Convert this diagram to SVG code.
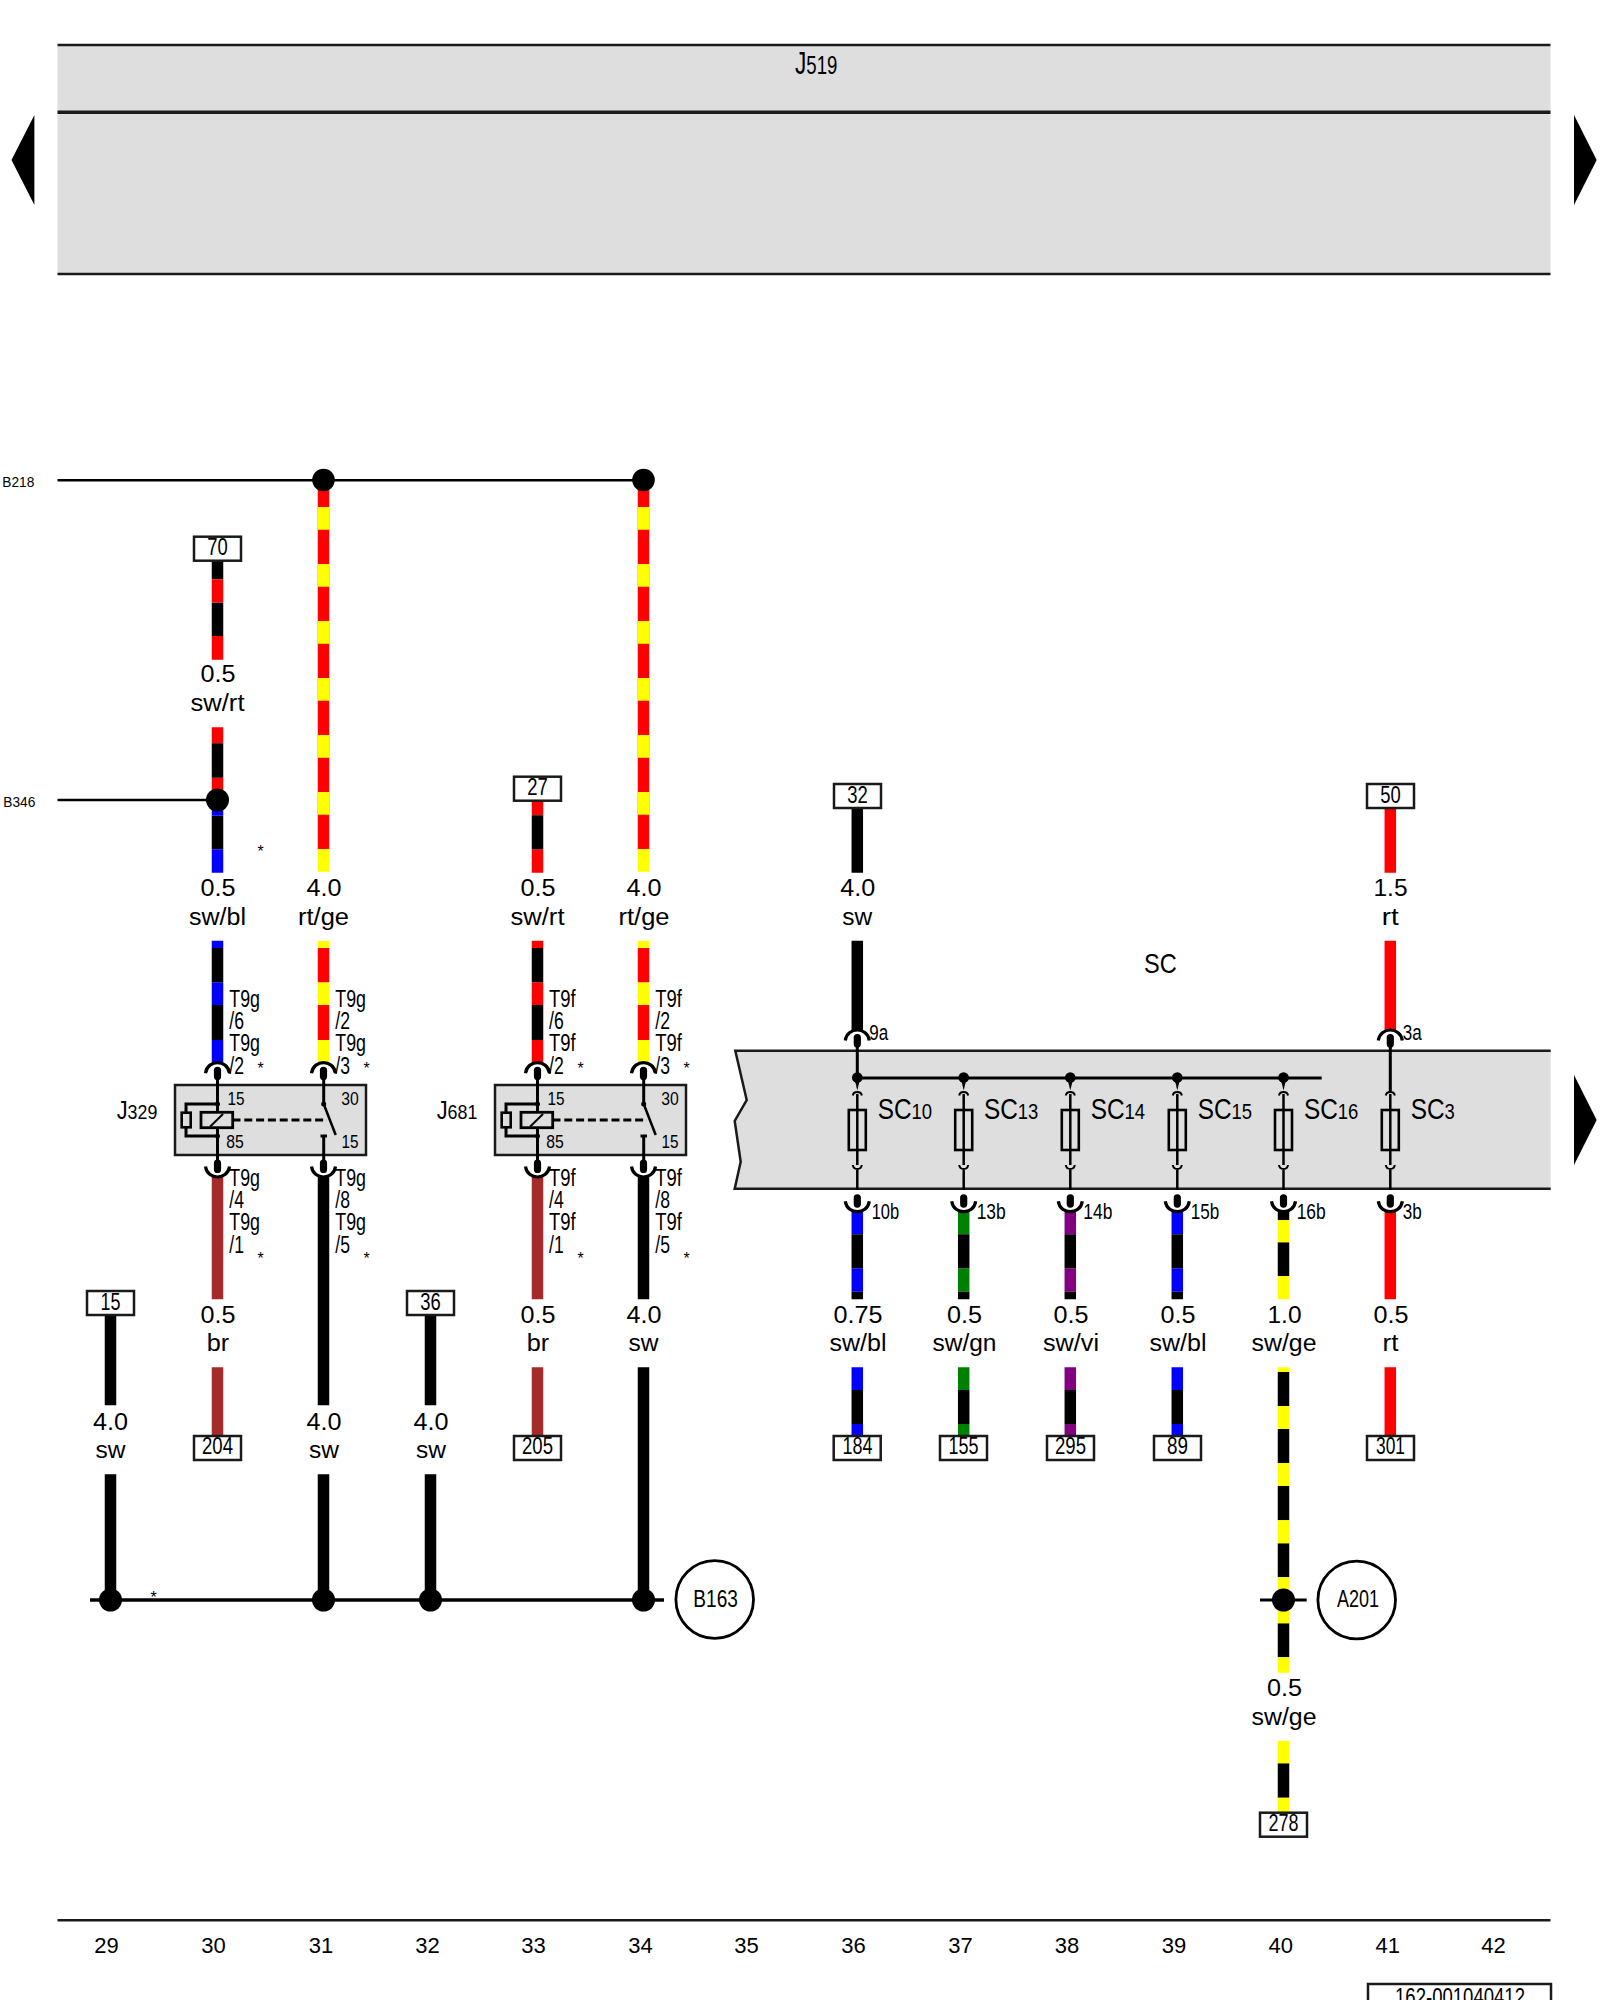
<svg xmlns="http://www.w3.org/2000/svg" width="1600" height="2000" viewBox="0 0 1600 2000">
<style>
text{font-family:"Liberation Sans",Arial,sans-serif;fill:#000}
.m{text-anchor:middle}
.w22{font-size:22px}.s23{font-size:23px}.s235{font-size:23.5px}.s22{font-size:22.5px}.s17{font-size:17.5px}.s15{font-size:15px}.s28{font-size:28px}
.st{font-size:16px;text-anchor:middle}
.band{fill:#dedede}
.edge{stroke:#1a1a1a;fill:none;stroke-linecap:butt}
.w{fill:none;stroke-width:11.5;stroke-linecap:butt}
.k{stroke:#000}.r{stroke:#f00}.y{stroke:#ff0}.b{stroke:#00f}.g{stroke:#008000}.v{stroke:#800080}.n{stroke:#a52a2a}
.ln{stroke:#000;fill:none}
.l2{stroke-width:2}.l25{stroke-width:2.5}.l3{stroke-width:3}.l32{stroke-width:3.2}.l35{stroke-width:3.6}
.term{fill:#fff;stroke:#1a1a1a;stroke-width:2.5}
.circ{fill:#fff;stroke:#000;stroke-width:2.8}
</style>
<defs>
<g id="cup-t"><path class="ln l32" d="M-12 10.5C-11 3-5 0 0 0C5 0 11 3 12 10.5"/><rect x="-3.6" y="4" width="7.2" height="13.5" rx="3.6"/></g>
<g id="cup-b"><path class="ln l32" d="M-12-10.5C-11-3-5 0 0 0C5 0 11-3 12-10.5"/><rect x="-3.6" y="-17.5" width="7.2" height="13.5" rx="3.6"/></g>
<g id="relay">
<rect x="175" y="1085" width="191" height="70" fill="#dedede" stroke="#1a1a1a" stroke-width="2.5"/>
<path class="ln l3" d="M217.5 1080V1112M217.5 1128V1165M323.7 1073V1104M323.7 1165V1136M320.5 1136H327M217.5 1104H186V1136H217.5"/>
<path class="ln l25" d="M323.7 1104L335.7 1135"/>
<path class="ln l3" d="M232.5 1120H327" stroke-dasharray="8 3.8"/>
<rect x="181.7" y="1112.7" width="9" height="14.6" fill="#dedede" stroke="#000" stroke-width="2.6"/>
<rect x="201" y="1112.3" width="31.7" height="15.4" fill="#dedede" stroke="#000" stroke-width="2.8"/>
<path class="ln l2" d="M210 1126.7L223 1114"/>
<circle cx="217.5" cy="1104" r="2.5"/><circle cx="217.5" cy="1136" r="2.5"/><circle cx="323.7" cy="1104" r="2.5"/>
</g>
<g id="fuse">
<path class="ln l25" d="M0 1094V1110M0 1150V1165M0 1170V1190M0 1110V1150"/>
<path class="ln l2" d="M-4.5 1095.5Q-4 1092 0 1092Q4 1092 4.5 1095.5M-4.5 1165Q-4 1169 0 1169Q4 1169 4.5 1165"/>
<rect x="-8.5" y="1110" width="17" height="40" fill="none" stroke="#000" stroke-width="2.6"/>
</g>
<g id="tap"><circle cx="0" cy="1077.5" r="5.3"/><path d="M-2.5 1080L0 1090.5L2.5 1080Z"/></g>
</defs>

<g id="J519">
<rect class="band" x="57.5" y="45" width="1493" height="229"/>
<path class="edge" stroke-width="2.5" d="M57.5 45H1550.5M57.5 274H1550.5"/>
<path class="edge" stroke-width="3.5" d="M57.5 112.3H1550.5"/>
<text transform="translate(795 73.5) scale(.73 1)" font-size="31">J<tspan font-size="25.5">519</tspan></text>
</g>
<g id="page-arrows">
<path d="M34.4 115L11.5 160L34.4 205Z"/>
<path d="M1574 115L1596.7 160L1574 205Z"/>
<path d="M1574 1075L1596.7 1120L1574 1165Z"/>
</g>
<g id="SC">
<path class="band" d="M735.3 1050.7H1550.7V1188.7H734.7L740.7 1161.7L734.7 1121L746.7 1100Z"/>
<path class="edge" stroke-width="2.5" d="M1550.7 1050.7H735.3L746.7 1100L734.7 1121L740.7 1161.7L734.7 1188.7H1550.7"/>
<text class="s28" x="1144" y="972.7" textLength="32.7" lengthAdjust="spacingAndGlyphs">SC</text>
</g>

<g id="connectors">
<path class="ln l25" d="M57.5 480.3H643.5M57.5 800H217.5"/>
<path class="ln l35" d="M90 1600H664"/>
<path class="ln l3" d="M1260 1600H1306.7M857.3 1078H1321.7M857.3 1046V1077M1390.3 1046V1092"/>
<!-- col 30 -->
<path class="w k" d="M217.5 560V579.3M217.5 602.5V636"/><path class="w r" d="M217.5 579.3V602.5M217.5 636V659.7"/>
<path class="w r" d="M217.5 727.3V743.3M217.5 777.7V795"/><path class="w k" d="M217.5 743.3V777.7M217.5 815.7V849.3"/><path class="w b" d="M217.5 795V815.7M217.5 849.3V872.7"/>
<path class="w b" d="M217.5 940.7V948M217.5 982.3V1005M217.5 1040V1063"/><path class="w k" d="M217.5 948V982.3M217.5 1005V1040"/>
<path class="w n" d="M217.5 1177V1299.3M217.5 1367.3V1436"/>
<!-- col 31 -->
<path class="w r" d="M323.5 480V850"/><path class="w y" d="M323.5 507V872.7" stroke-dasharray="22.7 34.3"/>
<path class="w y" d="M323.5 940.7V948M323.5 982.3V1005M323.5 1040V1063"/><path class="w r" d="M323.5 948V982.3M323.5 1005V1040"/>
<path class="w k" d="M323.5 1177V1405.3M323.5 1474.3V1600"/>
<!-- col 29 / 32 -->
<path class="w k" d="M110.5 1315V1405.3M110.5 1474.3V1600M430.5 1315V1405.3M430.5 1474.3V1600"/>
<!-- col 33 -->
<path class="w r" d="M537.5 800V815.3M537.5 849.3V872.7M537.5 940.7V948M537.5 982.3V1005M537.5 1040V1063"/><path class="w k" d="M537.5 815.3V849.3M537.5 948V982.3M537.5 1005V1040"/>
<path class="w n" d="M537.5 1177V1299.3M537.5 1367.3V1436"/>
<!-- col 34 -->
<path class="w r" d="M643.5 480V850"/><path class="w y" d="M643.5 507V872.7" stroke-dasharray="22.7 34.3"/>
<path class="w y" d="M643.5 940.7V948M643.5 982.3V1005M643.5 1040V1063"/><path class="w r" d="M643.5 948V982.3M643.5 1005V1040"/>
<path class="w k" d="M643.5 1177V1299.3M643.5 1367.3V1600"/>
<!-- col 36 -->
<path class="w k" d="M857.3 807V872.7M857.3 940.7V1030"/>
<path class="w b" d="M857.3 1211V1234.3M857.3 1268.3V1291.7M857.3 1367.3V1390M857.3 1424V1436"/><path class="w k" d="M857.3 1234.3V1268.3M857.3 1291.7V1299.3M857.3 1390V1424"/>
<!-- col 37 -->
<path class="w g" d="M963.7 1211V1234.3M963.7 1268.3V1291.7M963.7 1367.3V1390M963.7 1424V1436"/><path class="w k" d="M963.7 1234.3V1268.3M963.7 1291.7V1299.3M963.7 1390V1424"/>
<!-- col 38 -->
<path class="w v" d="M1070.3 1211V1234.3M1070.3 1268.3V1291.7M1070.3 1367.3V1390M1070.3 1424V1436"/><path class="w k" d="M1070.3 1234.3V1268.3M1070.3 1291.7V1299.3M1070.3 1390V1424"/>
<!-- col 39 -->
<path class="w b" d="M1177.3 1211V1234.3M1177.3 1268.3V1291.7M1177.3 1367.3V1390M1177.3 1424V1436"/><path class="w k" d="M1177.3 1234.3V1268.3M1177.3 1291.7V1299.3M1177.3 1390V1424"/>
<!-- col 40 -->
<path class="w k" d="M1283.5 1211V1220M1283.5 1242.3V1276M1283.5 1372V1406M1283.5 1429V1463M1283.5 1486V1520.3M1283.5 1543.3V1577.3M1283.5 1623.3V1657.3M1283.5 1763.3V1797.7"/>
<path class="w y" d="M1283.5 1220V1242.3M1283.5 1276V1299.3M1283.5 1367.3V1372M1283.5 1406V1429M1283.5 1463V1486M1283.5 1520.3V1543.3M1283.5 1577.3V1623.3M1283.5 1657.3V1672.7M1283.5 1740.7V1763.3M1283.5 1797.7V1813"/>
<!-- col 41 -->
<path class="w r" d="M1390.3 807V872.7M1390.3 940.7V1030M1390.3 1211V1299.3M1390.3 1367.3V1436"/>
</g>

<g id="junctions">
<circle cx="323.5" cy="480" r="11.3"/><circle cx="643.5" cy="480" r="11.3"/><circle cx="217.5" cy="800" r="11.5"/>
<circle cx="110.5" cy="1600" r="11.5"/><circle cx="323.5" cy="1600" r="11.5"/><circle cx="430.5" cy="1600" r="11.5"/><circle cx="643.5" cy="1600" r="11.5"/><circle cx="1283.5" cy="1600" r="11.5"/>
</g>

<g id="pins">
<use href="#cup-t" x="217.5" y="1062.7"/><use href="#cup-t" x="323.5" y="1062.7"/><use href="#cup-t" x="537.5" y="1062.7"/><use href="#cup-t" x="643.5" y="1062.7"/>
<use href="#cup-b" x="217.5" y="1177"/><use href="#cup-b" x="323.5" y="1177"/><use href="#cup-b" x="537.5" y="1177"/><use href="#cup-b" x="643.5" y="1177"/>
<use href="#cup-t" x="857.3" y="1030"/><use href="#cup-t" x="1390.3" y="1030"/>
<use href="#cup-b" x="857.3" y="1211.7"/><use href="#cup-b" x="963.7" y="1211.7"/><use href="#cup-b" x="1070.3" y="1211.7"/><use href="#cup-b" x="1177.3" y="1211.7"/><use href="#cup-b" x="1283.5" y="1211.7"/><use href="#cup-b" x="1390.3" y="1211.7"/>
</g>

<g id="J329">
<use href="#relay"/>
<text transform="translate(116.7 1119) scale(.87 1)" font-size="25">J<tspan font-size="20.5">329</tspan></text>
<text class="s17 m" x="236" y="1105" textLength="17" lengthAdjust="spacingAndGlyphs">15</text>
<text class="s17 m" x="350" y="1105" textLength="17.5" lengthAdjust="spacingAndGlyphs">30</text>
<text class="s17 m" x="235" y="1148" textLength="17.5" lengthAdjust="spacingAndGlyphs">85</text>
<text class="s17 m" x="350" y="1148" textLength="17" lengthAdjust="spacingAndGlyphs">15</text>
</g>
<g id="J681" transform="translate(320 0)">
<use href="#relay"/>
<text transform="translate(116.7 1119) scale(.87 1)" font-size="25">J<tspan font-size="20.5">681</tspan></text>
<text class="s17 m" x="236" y="1105" textLength="17" lengthAdjust="spacingAndGlyphs">15</text>
<text class="s17 m" x="350" y="1105" textLength="17.5" lengthAdjust="spacingAndGlyphs">30</text>
<text class="s17 m" x="235" y="1148" textLength="17.5" lengthAdjust="spacingAndGlyphs">85</text>
<text class="s17 m" x="350" y="1148" textLength="17" lengthAdjust="spacingAndGlyphs">15</text>
</g>

<g id="fuses">
<use href="#tap" x="857.3"/><use href="#tap" x="963.7"/><use href="#tap" x="1070.3"/><use href="#tap" x="1177.3"/><use href="#tap" x="1283.5"/>
<use href="#fuse" x="857.3"/><use href="#fuse" x="963.7"/><use href="#fuse" x="1070.3"/><use href="#fuse" x="1177.3"/><use href="#fuse" x="1283.5"/><use href="#fuse" x="1390.3"/>
<text transform="translate(877.7 1119.3) scale(.84 1)" font-size="29">SC<tspan font-size="22">10</tspan></text>
<text transform="translate(984 1119.3) scale(.84 1)" font-size="29">SC<tspan font-size="22">13</tspan></text>
<text transform="translate(1090.7 1119.3) scale(.84 1)" font-size="29">SC<tspan font-size="22">14</tspan></text>
<text transform="translate(1197.7 1119.3) scale(.84 1)" font-size="29">SC<tspan font-size="22">15</tspan></text>
<text transform="translate(1304 1119.3) scale(.84 1)" font-size="29">SC<tspan font-size="22">16</tspan></text>
<text transform="translate(1410.7 1119.3) scale(.84 1)" font-size="29">SC<tspan font-size="22">3</tspan></text>
<g class="s22">
<text x="869.3" y="1040" textLength="19" lengthAdjust="spacingAndGlyphs">9a</text>
<text x="1402.7" y="1040" textLength="19" lengthAdjust="spacingAndGlyphs">3a</text>
<text x="871.7" y="1219" textLength="27.5" lengthAdjust="spacingAndGlyphs">10b</text>
<text x="976.7" y="1219" textLength="29" lengthAdjust="spacingAndGlyphs">13b</text>
<text x="1083.3" y="1219" textLength="29" lengthAdjust="spacingAndGlyphs">14b</text>
<text x="1190.7" y="1219" textLength="28.5" lengthAdjust="spacingAndGlyphs">15b</text>
<text x="1296.7" y="1219" textLength="29" lengthAdjust="spacingAndGlyphs">16b</text>
<text x="1402.7" y="1219" textLength="19" lengthAdjust="spacingAndGlyphs">3b</text>
</g>
</g>

<g id="terminals" class="s235">
<g id="t70"><rect class="term" x="194" y="536.7" width="47" height="24"/><text class="m" x="217.5" y="555.3" textLength="20.5" lengthAdjust="spacingAndGlyphs">70</text></g>
<g id="t27"><rect class="term" x="514" y="776.7" width="47" height="24"/><text class="m" x="537.5" y="795.3" textLength="20.5" lengthAdjust="spacingAndGlyphs">27</text></g>
<g id="t32"><rect class="term" x="834" y="784" width="47" height="24"/><text class="m" x="857.5" y="802.6" textLength="20.5" lengthAdjust="spacingAndGlyphs">32</text></g>
<g id="t50"><rect class="term" x="1367" y="784" width="47" height="24"/><text class="m" x="1390.5" y="802.6" textLength="20.5" lengthAdjust="spacingAndGlyphs">50</text></g>
<g id="t15"><rect class="term" x="87" y="1291" width="47" height="24"/><text class="m" x="110.5" y="1310" textLength="20" lengthAdjust="spacingAndGlyphs">15</text></g>
<g id="t36"><rect class="term" x="407" y="1291" width="47" height="24"/><text class="m" x="430.5" y="1310" textLength="20.5" lengthAdjust="spacingAndGlyphs">36</text></g>
<g id="t204"><rect class="term" x="194" y="1436" width="47" height="24"/><text class="m" x="217.5" y="1454" textLength="31" lengthAdjust="spacingAndGlyphs">204</text></g>
<g id="t205"><rect class="term" x="514" y="1436" width="47" height="24"/><text class="m" x="537.5" y="1454" textLength="31" lengthAdjust="spacingAndGlyphs">205</text></g>
<g id="t184"><rect class="term" x="833.7" y="1436" width="47" height="24"/><text class="m" x="857.5" y="1454" textLength="30" lengthAdjust="spacingAndGlyphs">184</text></g>
<g id="t155"><rect class="term" x="940" y="1436" width="47" height="24"/><text class="m" x="963.5" y="1454" textLength="30" lengthAdjust="spacingAndGlyphs">155</text></g>
<g id="t295"><rect class="term" x="1047" y="1436" width="47" height="24"/><text class="m" x="1070.5" y="1454" textLength="31" lengthAdjust="spacingAndGlyphs">295</text></g>
<g id="t89"><rect class="term" x="1154" y="1436" width="47" height="24"/><text class="m" x="1177.5" y="1454" textLength="21" lengthAdjust="spacingAndGlyphs">89</text></g>
<g id="t301"><rect class="term" x="1367" y="1436" width="47" height="24"/><text class="m" x="1390.5" y="1454" textLength="29" lengthAdjust="spacingAndGlyphs">301</text></g>
<g id="t278"><rect class="term" x="1260" y="1812.7" width="47" height="24"/><text class="m" x="1283.5" y="1830.5" textLength="30" lengthAdjust="spacingAndGlyphs">278</text></g>
</g>

<g id="B163"><circle class="circ" cx="714.7" cy="1599.5" r="38.8"/><text class="s235 m" x="715.6" y="1607" textLength="44.5" lengthAdjust="spacingAndGlyphs">B163</text></g>
<g id="A201"><circle class="circ" cx="1356.7" cy="1600" r="38.8"/><text class="s235 m" x="1358" y="1607" textLength="42" lengthAdjust="spacingAndGlyphs">A201</text></g>

<g id="wire-labels" class="s23">
<text class="m" x="218" y="682.3" textLength="35" lengthAdjust="spacingAndGlyphs">0.5</text><text class="m" x="217.5" y="711" textLength="54" lengthAdjust="spacingAndGlyphs">sw/rt</text>
<text class="m" x="218" y="895.7" textLength="35" lengthAdjust="spacingAndGlyphs">0.5</text><text class="m" x="217.5" y="925" textLength="57" lengthAdjust="spacingAndGlyphs">sw/bl</text>
<text class="m" x="324" y="895.7" textLength="35" lengthAdjust="spacingAndGlyphs">4.0</text><text class="m" x="323.5" y="925" textLength="51" lengthAdjust="spacingAndGlyphs">rt/ge</text>
<text class="m" x="538" y="895.7" textLength="35" lengthAdjust="spacingAndGlyphs">0.5</text><text class="m" x="537.5" y="925" textLength="54" lengthAdjust="spacingAndGlyphs">sw/rt</text>
<text class="m" x="644" y="895.7" textLength="35" lengthAdjust="spacingAndGlyphs">4.0</text><text class="m" x="644" y="925" textLength="51" lengthAdjust="spacingAndGlyphs">rt/ge</text>
<text class="m" x="857.7" y="895.7" textLength="35" lengthAdjust="spacingAndGlyphs">4.0</text><text class="m" x="857.3" y="925" textLength="30" lengthAdjust="spacingAndGlyphs">sw</text>
<text class="m" x="1390.5" y="895.7" textLength="34" lengthAdjust="spacingAndGlyphs">1.5</text><text class="m" x="1390.3" y="925" textLength="17" lengthAdjust="spacingAndGlyphs">rt</text>
<text class="m" x="218" y="1322.7" textLength="35" lengthAdjust="spacingAndGlyphs">0.5</text><text class="m" x="218" y="1351" textLength="22.5" lengthAdjust="spacingAndGlyphs">br</text>
<text class="m" x="538" y="1322.7" textLength="35" lengthAdjust="spacingAndGlyphs">0.5</text><text class="m" x="538" y="1351" textLength="22.5" lengthAdjust="spacingAndGlyphs">br</text>
<text class="m" x="644" y="1322.7" textLength="35" lengthAdjust="spacingAndGlyphs">4.0</text><text class="m" x="643.5" y="1351" textLength="30" lengthAdjust="spacingAndGlyphs">sw</text>
<text class="m" x="110.5" y="1430" textLength="35" lengthAdjust="spacingAndGlyphs">4.0</text><text class="m" x="110.5" y="1458.3" textLength="30" lengthAdjust="spacingAndGlyphs">sw</text>
<text class="m" x="324" y="1430" textLength="35" lengthAdjust="spacingAndGlyphs">4.0</text><text class="m" x="324" y="1458.3" textLength="30" lengthAdjust="spacingAndGlyphs">sw</text>
<text class="m" x="431" y="1430" textLength="35" lengthAdjust="spacingAndGlyphs">4.0</text><text class="m" x="431" y="1458.3" textLength="30" lengthAdjust="spacingAndGlyphs">sw</text>
<text class="m" x="858" y="1322.7" textLength="49" lengthAdjust="spacingAndGlyphs">0.75</text><text class="m" x="858" y="1351" textLength="57" lengthAdjust="spacingAndGlyphs">sw/bl</text>
<text class="m" x="964.5" y="1322.7" textLength="35" lengthAdjust="spacingAndGlyphs">0.5</text><text class="m" x="964.5" y="1351" textLength="64" lengthAdjust="spacingAndGlyphs">sw/gn</text>
<text class="m" x="1071" y="1322.7" textLength="35" lengthAdjust="spacingAndGlyphs">0.5</text><text class="m" x="1071" y="1351" textLength="56" lengthAdjust="spacingAndGlyphs">sw/vi</text>
<text class="m" x="1178" y="1322.7" textLength="35" lengthAdjust="spacingAndGlyphs">0.5</text><text class="m" x="1178" y="1351" textLength="57" lengthAdjust="spacingAndGlyphs">sw/bl</text>
<text class="m" x="1284.5" y="1322.7" textLength="34" lengthAdjust="spacingAndGlyphs">1.0</text><text class="m" x="1284" y="1351" textLength="65" lengthAdjust="spacingAndGlyphs">sw/ge</text>
<text class="m" x="1391" y="1322.7" textLength="35" lengthAdjust="spacingAndGlyphs">0.5</text><text class="m" x="1390.5" y="1351" textLength="16" lengthAdjust="spacingAndGlyphs">rt</text>
<text class="m" x="1284.5" y="1695.7" textLength="35" lengthAdjust="spacingAndGlyphs">0.5</text><text class="m" x="1284" y="1725" textLength="65" lengthAdjust="spacingAndGlyphs">sw/ge</text>
</g>

<g id="pin-labels" class="s235">
<text x="229.3" y="1006.7" textLength="30.7" lengthAdjust="spacingAndGlyphs">T9g</text><text x="229.3" y="1028.5" textLength="14.7" lengthAdjust="spacingAndGlyphs">/6</text><text x="229.3" y="1050.7" textLength="30.7" lengthAdjust="spacingAndGlyphs">T9g</text><text x="229.3" y="1073.5" textLength="14.7" lengthAdjust="spacingAndGlyphs">/2</text>
<text x="335.3" y="1006.7" textLength="30.7" lengthAdjust="spacingAndGlyphs">T9g</text><text x="335.3" y="1028.5" textLength="14.7" lengthAdjust="spacingAndGlyphs">/2</text><text x="335.3" y="1050.7" textLength="30.7" lengthAdjust="spacingAndGlyphs">T9g</text><text x="335.3" y="1073.5" textLength="14.7" lengthAdjust="spacingAndGlyphs">/3</text>
<text x="229.3" y="1185.5" textLength="30.7" lengthAdjust="spacingAndGlyphs">T9g</text><text x="229.3" y="1207.8" textLength="14.7" lengthAdjust="spacingAndGlyphs">/4</text><text x="229.3" y="1230" textLength="30.7" lengthAdjust="spacingAndGlyphs">T9g</text><text x="229.3" y="1252.7" textLength="14.7" lengthAdjust="spacingAndGlyphs">/1</text>
<text x="335.3" y="1185.5" textLength="30.7" lengthAdjust="spacingAndGlyphs">T9g</text><text x="335.3" y="1207.8" textLength="14.7" lengthAdjust="spacingAndGlyphs">/8</text><text x="335.3" y="1230" textLength="30.7" lengthAdjust="spacingAndGlyphs">T9g</text><text x="335.3" y="1252.7" textLength="14.7" lengthAdjust="spacingAndGlyphs">/5</text>
<text x="549" y="1006.7" textLength="26.7" lengthAdjust="spacingAndGlyphs">T9f</text><text x="549" y="1028.5" textLength="14.7" lengthAdjust="spacingAndGlyphs">/6</text><text x="549" y="1050.7" textLength="26.7" lengthAdjust="spacingAndGlyphs">T9f</text><text x="549" y="1073.5" textLength="14.7" lengthAdjust="spacingAndGlyphs">/2</text>
<text x="655.3" y="1006.7" textLength="26.7" lengthAdjust="spacingAndGlyphs">T9f</text><text x="655.3" y="1028.5" textLength="14.7" lengthAdjust="spacingAndGlyphs">/2</text><text x="655.3" y="1050.7" textLength="26.7" lengthAdjust="spacingAndGlyphs">T9f</text><text x="655.3" y="1073.5" textLength="14.7" lengthAdjust="spacingAndGlyphs">/3</text>
<text x="549" y="1185.5" textLength="26.7" lengthAdjust="spacingAndGlyphs">T9f</text><text x="549" y="1207.8" textLength="14.7" lengthAdjust="spacingAndGlyphs">/4</text><text x="549" y="1230" textLength="26.7" lengthAdjust="spacingAndGlyphs">T9f</text><text x="549" y="1252.7" textLength="14.7" lengthAdjust="spacingAndGlyphs">/1</text>
<text x="655.3" y="1185.5" textLength="26.7" lengthAdjust="spacingAndGlyphs">T9f</text><text x="655.3" y="1207.8" textLength="14.7" lengthAdjust="spacingAndGlyphs">/8</text><text x="655.3" y="1230" textLength="26.7" lengthAdjust="spacingAndGlyphs">T9f</text><text x="655.3" y="1252.7" textLength="14.7" lengthAdjust="spacingAndGlyphs">/5</text>
</g>

<g id="stars">
<text class="st" x="260.5" y="857">*</text><text class="st" x="153.7" y="1603">*</text>
<text class="st" x="260.5" y="1074">*</text><text class="st" x="366.5" y="1074">*</text><text class="st" x="580.5" y="1074">*</text><text class="st" x="686.5" y="1074">*</text>
<text class="st" x="260.5" y="1264">*</text><text class="st" x="366.5" y="1264">*</text><text class="st" x="580.5" y="1264">*</text><text class="st" x="686.5" y="1264">*</text>
</g>

<g id="bus-labels" class="s15">
<text x="2.3" y="486.7" textLength="32" lengthAdjust="spacingAndGlyphs">B218</text>
<text x="3.3" y="806.7" textLength="32" lengthAdjust="spacingAndGlyphs">B346</text>
</g>

<g id="footer">
<path class="edge" stroke-width="2.5" d="M57.5 1920.3H1550.5"/>
<g class="w22">
<text class="m" x="106.5" y="1953.3">29</text><text class="m" x="213.5" y="1953.3">30</text><text class="m" x="321" y="1953.3">31</text><text class="m" x="427.5" y="1953.3">32</text><text class="m" x="533.5" y="1953.3">33</text><text class="m" x="640.5" y="1953.3">34</text><text class="m" x="746.5" y="1953.3">35</text><text class="m" x="853.5" y="1953.3">36</text><text class="m" x="960.5" y="1953.3">37</text><text class="m" x="1067" y="1953.3">38</text><text class="m" x="1174" y="1953.3">39</text><text class="m" x="1280.7" y="1953.3">40</text><text class="m" x="1387.7" y="1953.3">41</text><text class="m" x="1493.5" y="1953.3">42</text>
</g>
<rect x="1368" y="1984" width="183" height="40" fill="#fff" stroke="#1a1a1a" stroke-width="2.5"/>
<text class="s23 m" x="1460" y="2005" textLength="130" lengthAdjust="spacingAndGlyphs">162-001040412</text>
</g>
</svg>
